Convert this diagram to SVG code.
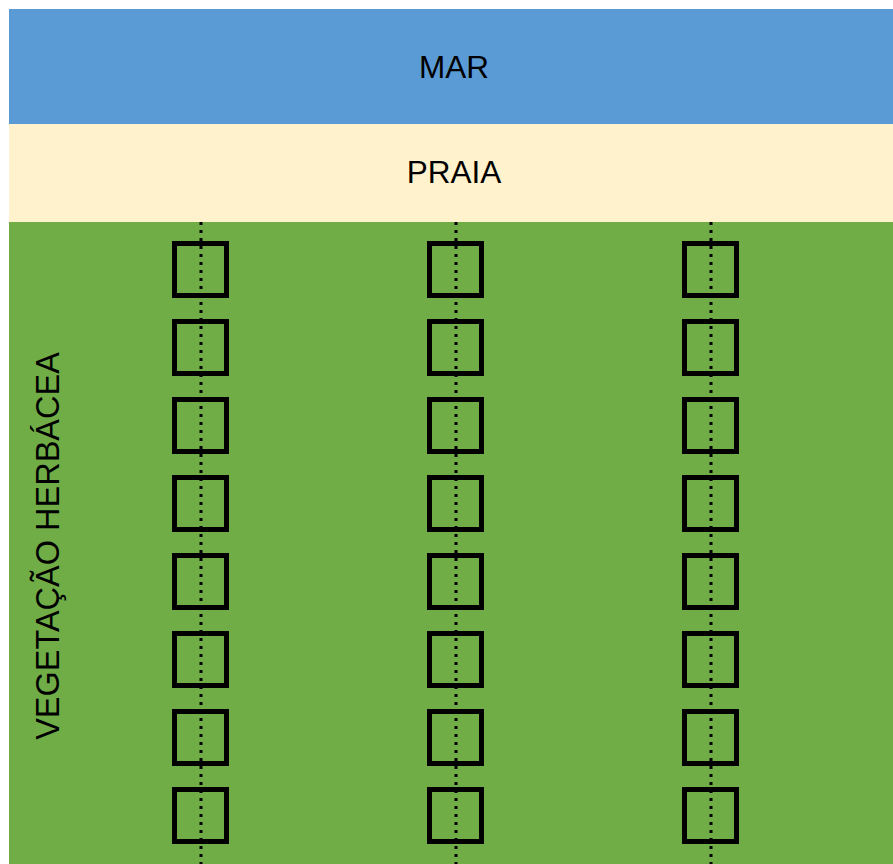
<svg xmlns="http://www.w3.org/2000/svg" width="893" height="864" viewBox="0 0 893 864">
<style>
.lbl{font-family:"Liberation Sans",Arial,sans-serif;font-size:31.5px;fill:#000}
.q{fill:none;stroke:#000;stroke-width:5}
.d{stroke:#000;stroke-width:3;stroke-dasharray:3 5;fill:none}
</style>
<rect width="893" height="864" fill="#fff"/>
<g id="mar"><rect x="9" y="9" width="884" height="115" fill="#5B9BD5"/><text class="lbl" x="454" y="78" text-anchor="middle">MAR</text></g>
<g id="praia"><rect x="9" y="124" width="884" height="98" fill="#FFF2CC"/><text class="lbl" x="454" y="183" text-anchor="middle">PRAIA</text></g>
<g id="vegetacao"><rect x="9" y="222" width="884" height="642" fill="#70AD47"/><text class="lbl" style="font-size:32.5px" transform="translate(59,546) rotate(-90)" text-anchor="middle">VEGETAÇÃO HERBÁCEA</text></g>
<g id="transects">
<line class="d" x1="201" y1="222" x2="201" y2="864"/>
<line class="d" x1="456" y1="222" x2="456" y2="864"/>
<line class="d" x1="711" y1="222" x2="711" y2="864"/>
</g>
<g id="col1">
<rect class="q" x="174.5" y="243.5" width="52" height="52"/>
<rect class="q" x="174.5" y="321.5" width="52" height="52"/>
<rect class="q" x="174.5" y="399.5" width="52" height="52"/>
<rect class="q" x="174.5" y="477.5" width="52" height="52"/>
<rect class="q" x="174.5" y="555.5" width="52" height="52"/>
<rect class="q" x="174.5" y="633.5" width="52" height="52"/>
<rect class="q" x="174.5" y="711.5" width="52" height="52"/>
<rect class="q" x="174.5" y="789.5" width="52" height="52"/>
</g>
<g id="col2">
<rect class="q" x="429.5" y="243.5" width="52" height="52"/>
<rect class="q" x="429.5" y="321.5" width="52" height="52"/>
<rect class="q" x="429.5" y="399.5" width="52" height="52"/>
<rect class="q" x="429.5" y="477.5" width="52" height="52"/>
<rect class="q" x="429.5" y="555.5" width="52" height="52"/>
<rect class="q" x="429.5" y="633.5" width="52" height="52"/>
<rect class="q" x="429.5" y="711.5" width="52" height="52"/>
<rect class="q" x="429.5" y="789.5" width="52" height="52"/>
</g>
<g id="col3">
<rect class="q" x="684.5" y="243.5" width="52" height="52"/>
<rect class="q" x="684.5" y="321.5" width="52" height="52"/>
<rect class="q" x="684.5" y="399.5" width="52" height="52"/>
<rect class="q" x="684.5" y="477.5" width="52" height="52"/>
<rect class="q" x="684.5" y="555.5" width="52" height="52"/>
<rect class="q" x="684.5" y="633.5" width="52" height="52"/>
<rect class="q" x="684.5" y="711.5" width="52" height="52"/>
<rect class="q" x="684.5" y="789.5" width="52" height="52"/>
</g>
</svg>
